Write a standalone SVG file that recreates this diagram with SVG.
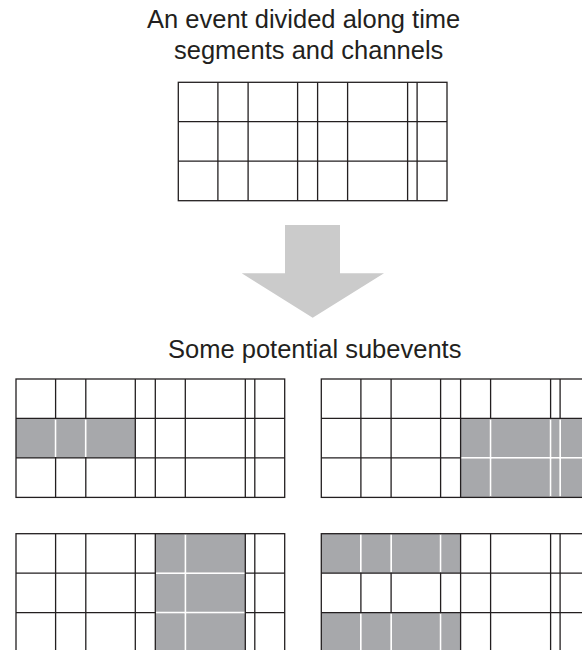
<svg xmlns="http://www.w3.org/2000/svg" width="582" height="650" viewBox="0 0 582 650">
  <style>
    .title { font-family: "Liberation Sans", Arial, sans-serif; font-size: 25.5px; fill: #231f20; }
    .cell { fill: none; stroke: #231f20; stroke-width: 1.3; }
    .shade { fill: #a7a8ab; stroke: none; }
    .sep { stroke: #ffffff; stroke-width: 1.8; }
    .arrow { fill: #cbcbcb; }
  </style>
  <defs>
    <!-- 3 channels x 9 time segments; width 269, height 118.5 -->
    <g id="grid">
      <rect class="cell" x="0" y="0" width="268.7" height="118.4"/>
      <path class="cell" d="M0 39.4H268.7M0 78.9H268.7M39.6 0V118.4M69.8 0V118.4M119.3 0V118.4M139.3 0V118.4M169.3 0V118.4M229.3 0V118.4M238.8 0V118.4"/>
    </g>
  </defs>

  <g id="header">
    <text class="title" x="147" y="28.3">An event divided along time</text>
    <text class="title" x="174" y="59">segments and channels</text>
  </g>

  <g id="event">
    <use href="#grid" x="178.3" y="82.3"/>
  </g>

  <g id="connectors">
    <polygon class="arrow" points="285,225 340,225 340,273.3 384,273.3 312.7,317.7 241.7,273.3 285,273.3"/>
  </g>

  <g id="subtitle">
    <text class="title" x="168" y="358.3">Some potential subevents</text>
  </g>

  <!-- Subevent A: first three segments of the middle channel -->
  <g id="subevent-a" transform="translate(16 379)">
    <rect class="shade" x="0" y="39.4" width="119.3" height="39.5"/>
    <use href="#grid"/>
    <path class="sep" d="M39.6 40.2V78.1M69.8 40.2V78.1"/>
  </g>

  <!-- Subevent B: last five segments of the lower two channels -->
  <g id="subevent-b" transform="translate(321.3 379)">
    <rect class="shade" x="139.3" y="39.4" width="129.4" height="79"/>
    <use href="#grid"/>
    <path class="sep" d="M140 78.9H268.7M169.3 40.2V117.6M229.3 40.2V117.6M238.8 40.2V117.6"/>
  </g>

  <!-- Subevent C: segments five and six across all channels -->
  <g id="subevent-c" transform="translate(16 533.7)">
    <rect class="shade" x="139.3" y="0" width="90" height="118.4"/>
    <use href="#grid"/>
    <path class="sep" d="M140 39.4H228.6M140 78.9H228.6M169.3 0.8V117.6"/>
  </g>

  <!-- Subevent D: first four segments of the top and bottom channels -->
  <g id="subevent-d" transform="translate(321.3 533.7)">
    <rect class="shade" x="0" y="0" width="139.3" height="39.4"/>
    <rect class="shade" x="0" y="78.9" width="139.3" height="39.5"/>
    <use href="#grid"/>
    <path class="sep" d="M39.6 0.8V38.6M69.8 0.8V38.6M119.3 0.8V38.6M39.6 79.7V117.6M69.8 79.7V117.6M119.3 79.7V117.6"/>
  </g>
</svg>
